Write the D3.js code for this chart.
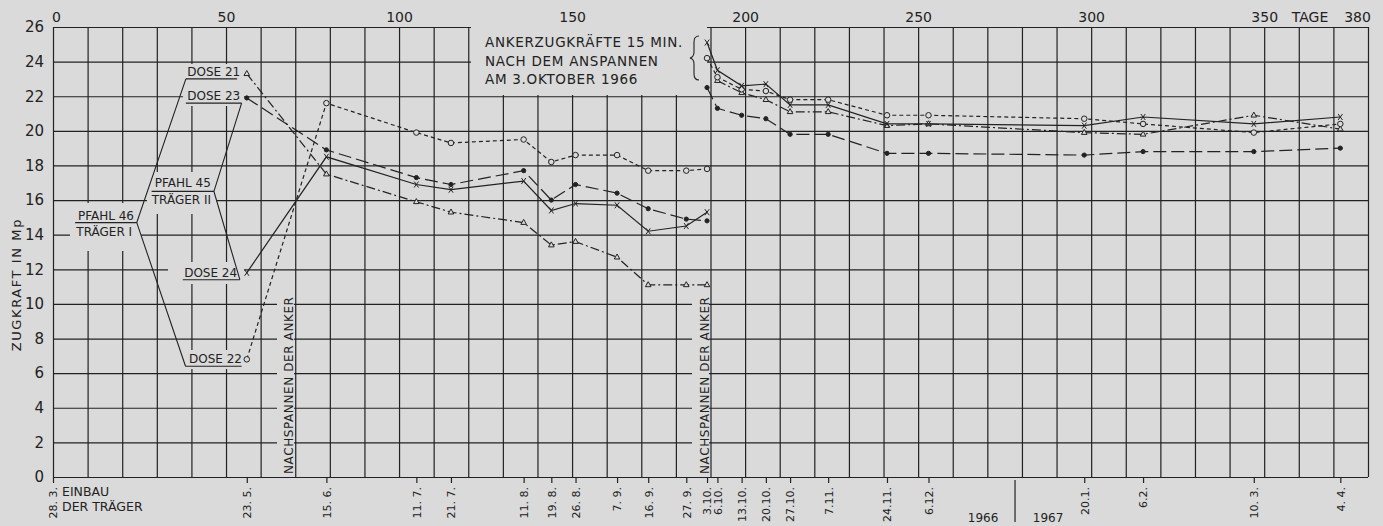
<!DOCTYPE html>
<html>
<head>
<meta charset="utf-8">
<script src="https://cdn.jsdelivr.net/npm/d3@7"></script>
<style>
  html, body { margin: 0; padding: 0; background: #dadada; }
  svg { display: block; }
  text { font-family: "DejaVu Sans", sans-serif; fill: #222; }
</style>
</head>
<body>
<div id="chart"></div>
<script>
// days counted from 28.3.1966 (installation of the beams)
const daysBefore = [56, 79, 105, 115, 136, 144, 151, 163, 172, 183, 189];
const daysAfter = [189, 192, 199, 206, 213, 224, 241, 253, 298, 315, 347, 372];

// anchor forces in Mp, before and after re-tensioning on 3.10.
const dose21Before = [23.3, 17.5, 15.9, 15.3, 14.7, 13.4, 13.6, 12.7, 11.1, 11.1, 11.1];
const dose21After = [null, 22.9, 22.2, 21.8, 21.1, 21.1, 20.3, 20.4, 19.9, 19.8, 20.9, 20.1];
const dose22Before = [6.8, 21.6, 19.9, 19.3, 19.5, 18.2, 18.6, 18.6, 17.7, 17.7, 17.8];
const dose22After = [24.2, 23.1, 22.4, 22.3, 21.8, 21.8, 20.9, 20.9, 20.7, 20.4, 19.9, 20.4];
const dose23Before = [21.9, 18.9, 17.3, 16.9, 17.7, 16.0, 16.9, 16.4, 15.5, 14.9, 14.8];
const dose23After = [22.5, 21.3, 20.9, 20.7, 19.8, 19.8, 18.7, 18.7, 18.6, 18.8, 18.8, 19.0];
const dose24Before = [11.8, 18.5, 16.9, 16.6, 17.1, 15.4, 15.8, 15.7, 14.2, 14.5, 15.3];
const dose24After = [25.1, 23.5, 22.6, 22.7, 21.5, 21.5, 20.4, 20.4, 20.3, 20.8, 20.4, 20.8];

const dateDays = [0, 56, 79, 105, 115, 136, 144, 151, 163, 172, 183, 189, 192, 199, 206, 213, 224, 241, 253, 298, 315, 347, 372];
const dateLabels = ['28. 3.', '23. 5.', '15. 6.', '11. 7.', '21. 7.', '11. 8.', '19. 8.', '26. 8.', '7. 9.', '16. 9.', '27. 9.',
  '3.10.', '6.10.', '13.10.', '20.10.', '27.10.', '7.11.', '24.11.', '6.12.', '20.1.', '6.2.', '10. 3.', '4. 4.'];
const dayTicks = [0, 50, 100, 150, 200, 250, 300, 350, 380];
const forceTicks = [0, 2, 4, 6, 8, 10, 12, 14, 16, 18, 20, 22, 24, 26];
const yearEnd = 278;

const series = [
  { name: 'DOSE 21', before: dose21Before, after: dose21After, dash: '9,3,2,3', marker: 'triangle' },
  { name: 'DOSE 22', before: dose22Before, after: dose22After, dash: '4,3', marker: 'circle' },
  { name: 'DOSE 23', before: dose23Before, after: dose23After, dash: '13,5', marker: 'dot' },
  { name: 'DOSE 24', before: dose24Before, after: dose24After, dash: null, marker: 'cross' }
];

const width = 1383;
const height = 526;
const ink = '#222';
const paper = '#dadada';

const svg = d3.select('#chart')
  .append('svg')
  .attr('width', width)
  .attr('height', height);

svg.append('rect').attr('width', width).attr('height', height).attr('fill', paper);

const x = d3.scaleLinear().domain([0, 380]).range([53, 1368]);
const y = d3.scaleLinear().domain([0, 26]).range([477, 27]);

// grid (also forms the frame)
svg.append('g')
  .attr('transform', `translate(0, ${y(0)})`)
  .call(d3.axisBottom(x).tickValues(d3.range(0, 381, 10)).tickSize(-(y(0) - y(26))).tickFormat(''))
  .call(g => g.select('.domain').remove())
  .selectAll('line').attr('stroke', ink).attr('stroke-width', 1.2);

svg.append('g')
  .attr('transform', `translate(${x(0)}, 0)`)
  .call(d3.axisLeft(y).tickValues(forceTicks).tickSize(-(x(380) - x(0))).tickFormat(''))
  .call(g => g.select('.domain').remove())
  .selectAll('line').attr('stroke', ink).attr('stroke-width', 1.2);

// places where the draughtsman left the grid out for lettering
const masks = [
  [471, 20, 707, 95],
  [70, 203, 141, 251],
  [147, 172, 216, 214],
  [183, 64, 244, 106],
  [168, 262, 244, 284],
  [183, 350, 244, 369],
  [277, 295, 294, 476],
  [692, 295, 709, 476]
];
svg.append('g').selectAll('rect')
  .data(masks)
  .enter()
  .append('rect')
  .attr('x', d => d[0])
  .attr('y', d => d[1])
  .attr('width', d => d[2] - d[0])
  .attr('height', d => d[3] - d[1])
  .attr('fill', paper);

// top day axis
const topAxis = svg.append('g')
  .attr('transform', `translate(0, ${y(26)})`)
  .call(d3.axisTop(x).tickValues(dayTicks).tickSize(0).tickPadding(5));
topAxis.select('.domain').remove();
topAxis.selectAll('text')
  .style('font-size', '14px')
  .attr('fill', ink)
  .attr('dx', d => d === 0 ? 3 : d === 380 ? -11 : 0);
svg.append('text')
  .attr('x', 1310)
  .attr('y', y(26) - 5)
  .attr('text-anchor', 'middle')
  .style('font-size', '14px')
  .text('TAGE');

// left force axis
const leftAxis = svg.append('g')
  .attr('transform', `translate(${x(0)}, 0)`)
  .call(d3.axisLeft(y).tickValues(forceTicks).tickSize(0).tickPadding(9));
leftAxis.select('.domain').remove();
leftAxis.selectAll('text').style('font-size', '15px').attr('fill', ink);

svg.append('text')
  .attr('transform', `translate(21, ${y(11) - 2}) rotate(-90)`)
  .attr('text-anchor', 'middle')
  .style('font-size', '13px')
  .style('letter-spacing', '1.6px')
  .text('ZUGKRAFT  IN  Mp');

// bottom date axis
const dateAxis = svg.append('g')
  .attr('transform', `translate(0, ${y(0)})`)
  .call(d3.axisBottom(x).tickValues(dateDays).tickSize(6).tickFormat((d, i) => dateLabels[i]));
dateAxis.select('.domain').remove();
dateAxis.selectAll('line').attr('stroke', ink).attr('stroke-width', 1.2);
dateAxis.selectAll('text')
  .attr('transform', 'rotate(-90)')
  .attr('x', -10)
  .attr('y', 0)
  .attr('dy', '0.35em')
  .attr('text-anchor', 'end')
  .attr('fill', ink)
  .style('font-size', '11px');

svg.append('text').attr('x', 62).attr('y', 496).style('font-size', '12.5px').text('EINBAU');
svg.append('text').attr('x', 62).attr('y', 511).style('font-size', '12.5px').text('DER TRÄGER');

// year boundary
svg.append('line')
  .attr('x1', x(yearEnd)).attr('x2', x(yearEnd))
  .attr('y1', y(0) + 3).attr('y2', 522)
  .attr('stroke', ink).attr('stroke-width', 1.2);
svg.append('text').attr('x', x(yearEnd) - 32).attr('y', 522).attr('text-anchor', 'middle')
  .style('font-size', '12px').text('1966');
svg.append('text').attr('x', x(yearEnd) + 33).attr('y', 522).attr('text-anchor', 'middle')
  .style('font-size', '12px').text('1967');

// re-tensioning notes
[[293, 'NACHSPANNEN DER ANKER'], [709, 'NACHSPANNEN DER ANKER']].forEach(([px, label]) => {
  svg.append('text')
    .attr('transform', `translate(${px}, 474) rotate(-90)`)
    .style('font-size', '12px')
    .style('letter-spacing', '0.6px')
    .text(label);
});

// annotation for the values 15 min after tensioning
const note = svg.append('text').style('font-size', '13.5px').style('letter-spacing', '0.7px');
['ANKERZUGKRÄFTE 15 MIN.', 'NACH DEM ANSPANNEN', 'AM 3.OKTOBER 1966'].forEach((line, i) => {
  note.append('tspan').attr('x', 485).attr('y', 47 + i * 18.5).text(line);
});
svg.append('path')
  .attr('d', 'M699,36 Q694,36 694,42 L694,52 Q694,57 690,58 Q694,59 694,64 L694,74 Q694,80 699,80')
  .attr('fill', 'none')
  .attr('stroke', ink)
  .attr('stroke-width', 1.1);

// labels with leader lines (day / force coordinates)
const leaders = [
  [[38.4, 23.0], [53.2, 23.0]],
  [[38.4, 21.6], [54.5, 21.6]],
  [[37.5, 11.4], [54.0, 11.4]],
  [[38.3, 6.4], [54.5, 6.4]],
  [[6.4, 14.7], [24.2, 14.7]],
  [[28.5, 16.5], [46.5, 16.5]],
  [[38.4, 23.0], [24.2, 14.7], [38.3, 6.4]],
  [[54.5, 21.6], [46.5, 16.5], [54.0, 11.4]]
];
svg.append('g').selectAll('path')
  .data(leaders)
  .enter()
  .append('path')
  .attr('d', d3.line().x(d => x(d[0])).y(d => y(d[1])))
  .attr('fill', 'none')
  .attr('stroke', ink)
  .attr('stroke-width', 1.1);

const labelFont = '12px';
[['DOSE 21', 38.8, 23.0], ['DOSE 23', 38.8, 21.6], ['DOSE 24', 37.9, 11.4], ['DOSE 22', 39.3, 6.4]].forEach(([t, d, v]) => {
  svg.append('text').attr('x', x(d)).attr('y', y(v) - 3).style('font-size', labelFont).text(t);
});
svg.append('text').attr('x', x(15.3)).attr('y', y(14.7) - 3).attr('text-anchor', 'middle').style('font-size', labelFont).text('PFAHL 46');
svg.append('text').attr('x', x(14.8)).attr('y', y(14.7) + 13).attr('text-anchor', 'middle').style('font-size', labelFont).text('TRÄGER I');
svg.append('text').attr('x', x(37.5)).attr('y', y(16.5) - 4).attr('text-anchor', 'middle').style('font-size', labelFont).text('PFAHL 45');
svg.append('text').attr('x', x(37.1)).attr('y', y(16.5) + 12.5).attr('text-anchor', 'middle').style('font-size', labelFont).text('TRÄGER II');

// measured series
const line = d3.line()
  .defined(d => d.v !== null)
  .x(d => x(d.day))
  .y(d => y(d.v));

const toPoints = (days, values) => days.map((day, i) => ({ day, v: values[i] }));

series.forEach(s => {
  [toPoints(daysBefore, s.before), toPoints(daysAfter, s.after)].forEach(pts => {
    svg.append('path')
      .datum(pts)
      .attr('d', line)
      .attr('fill', 'none')
      .attr('stroke', ink)
      .attr('stroke-width', 1.2)
      .attr('stroke-dasharray', s.dash);

    const marks = svg.append('g').selectAll('path')
      .data(pts.filter(d => d.v !== null))
      .enter()
      .append('path')
      .attr('transform', d => `translate(${x(d.day)}, ${y(d.v)})`)
      .attr('stroke', ink)
      .attr('stroke-width', 1);

    if (s.marker === 'triangle') {
      marks.attr('d', 'M0,-3.2 L2.8,1.8 L-2.8,1.8 Z').attr('fill', paper);
    } else if (s.marker === 'circle') {
      marks.attr('d', d3.symbol(d3.symbolCircle, 24)).attr('fill', paper);
    } else if (s.marker === 'dot') {
      marks.attr('d', d3.symbol(d3.symbolCircle, 14)).attr('fill', ink);
    } else {
      marks.attr('d', 'M-2.2,-3 L2.2,3 M2.2,-3 L-2.2,3').attr('fill', 'none');
    }
  });
});
</script>
</body>
</html>
